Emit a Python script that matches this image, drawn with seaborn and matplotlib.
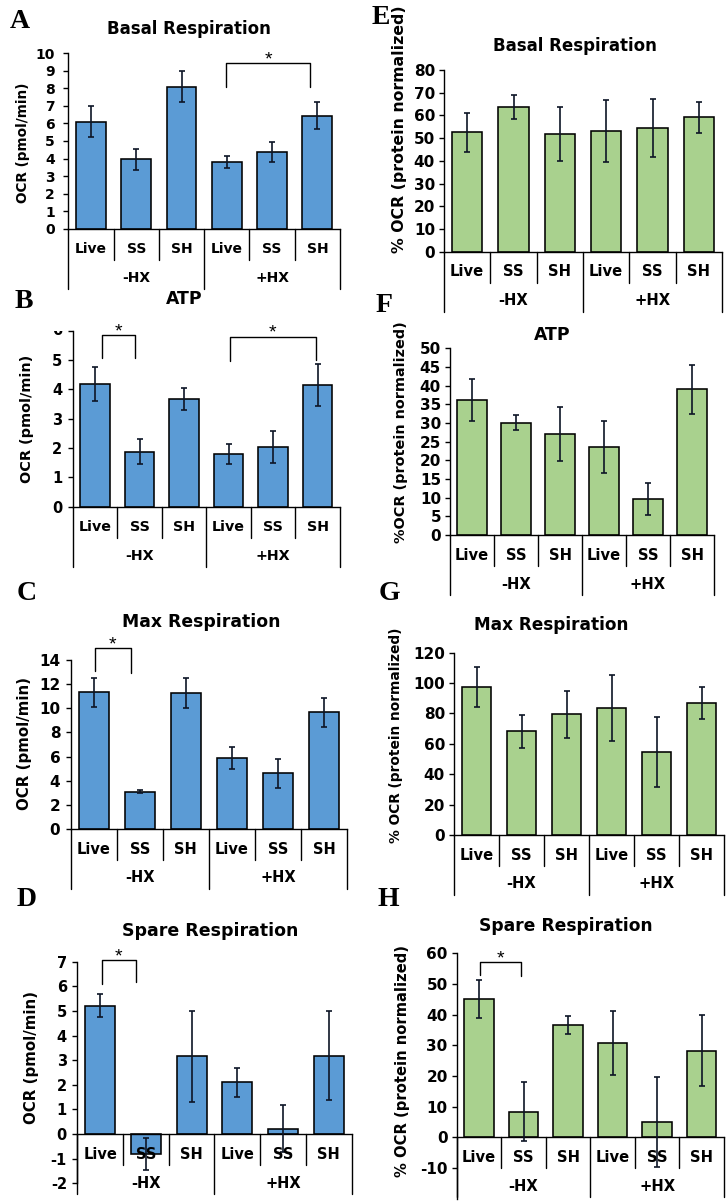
import numpy as np
import pandas as pd
import matplotlib
matplotlib.use("Agg")
import matplotlib.pyplot as plt
import seaborn as sns
from matplotlib.transforms import Bbox

sns.set_theme(style="white")
plt.rcParams["font.family"] = ["DejaVu Sans"]
plt.rcParams["font.weight"] = "bold"
for key in ("text.color", "axes.labelcolor", "xtick.color", "ytick.color"):
    plt.rcParams[key] = "black"

W, H, DPI = 728, 1202, 100

# ---- categories ----
treatments = ["Live", "SS", "SH", "Live", "SS", "SH"]
groups = ["-HX", "+HX"]
keys = [f"{t} {g}" for g in groups for t in treatments[:3]]

# ---- OCR (pmol/min) ----
basal_ocr = [6.1, 3.95, 8.1, 3.8, 4.4, 6.45]
basal_ocr_err = [0.9, 0.6, 0.88, 0.35, 0.57, 0.78]
atp_ocr = [4.18, 1.88, 3.66, 1.8, 2.03, 4.14]
atp_ocr_err = [0.58, 0.44, 0.37, 0.35, 0.55, 0.72]
max_ocr = [11.33, 3.1, 11.27, 5.91, 4.61, 9.67]
max_ocr_err = [1.2, 0.13, 1.25, 0.9, 1.2, 1.22]
spare_ocr = [5.22, -0.8, 3.15, 2.1, 0.22, 3.18]
spare_ocr_err = [0.46, 0.65, 1.83, 0.58, 0.94, 1.81]

# ---- % OCR (protein normalized) ----
basal_pct = [52.6, 63.8, 51.8, 53.2, 54.6, 59.2]
basal_pct_err = [8.5, 5.4, 11.7, 13.7, 12.7, 6.9]
atp_pct = [36.1, 30.1, 27.0, 23.6, 9.7, 39.0]
atp_pct_err = [5.6, 2.0, 7.3, 7.0, 4.3, 6.5]
max_pct = [97.2, 68.3, 79.5, 83.6, 54.4, 87.1]
max_pct_err = [13.2, 11.0, 15.6, 21.8, 23.0, 10.6]
spare_pct = [45.1, 8.4, 36.6, 30.8, 5.0, 28.3]
spare_pct_err = [6.3, 9.5, 2.9, 10.4, 14.8, 11.5]

# significance brackets: (x_left, x_right, top, left leg end, right leg end)
sig_A = [(2.98, 4.84, 9.43, 8.1, 8.06)]
sig_B = [(0.15, 0.9, 5.85, 5.06, 5.06), (3.03, 4.96, 5.8, 4.98, 5.0)]
sig_C = [(0.03, 0.8, 14.97, 13.1, 12.9)]
sig_D = [(0.03, 0.78, 7.06, 6.09, 6.18)]
sig_H = [(0.02, 0.95, 57.1, 52.9, 52.7)]

BLUE = "#5B9BD5"
GREEN = "#A9D18E"

# per panel: axis box in pixels (left, right, top, bottom), text anchors in pixels,
# font sizes (tick, category, ylabel, title) and tick-label pad
panels = [
    dict(letter="A", title="Basal Respiration", ylabel="OCR (pmol/min)",
         v=basal_ocr, e=basal_ocr_err, c=BLUE, box=(68.3, 340, 53.3, 228.7),
         ylim=(0, 10), ticks=list(range(0, 11)), sig=sig_A,
         lxy=(20, 21), txy=(189, 29), yxy=(23, 143), fs=(10, 10, 9.8, 12), pad=6),
    dict(letter="E", title="Basal Respiration", ylabel="% OCR (protein normalized)",
         v=basal_pct, e=basal_pct_err, c=GREEN, box=(444, 722, 70, 251.7),
         ylim=(0, 80), ticks=list(range(0, 81, 10)), sig=[],
         lxy=(381, 17), txy=(575, 46), yxy=(399, 129), fs=(11, 10.6, 11.3, 12), pad=3),
    dict(letter="B", title="ATP", ylabel="OCR (pmol/min)",
         v=atp_ocr, e=atp_ocr_err, c=BLUE, box=(72.7, 340, 330.7, 506.7),
         ylim=(0, 6), ticks=list(range(0, 7)), sig=sig_B,
         lxy=(24, 302), txy=(184, 299), yxy=(27.5, 419), fs=(10.5, 10.3, 10.4, 12.4), pad=4),
    dict(letter="F", title="ATP", ylabel="%OCR (protein normalized)",
         v=atp_pct, e=atp_pct_err, c=GREEN, box=(450, 714, 348.3, 535),
         ylim=(0, 50), ticks=list(range(0, 51, 5)), sig=[],
         lxy=(384, 306), txy=(552, 335), yxy=(401, 432), fs=(11, 10.6, 10.4, 12.4), pad=3),
    dict(letter="C", title="Max Respiration", ylabel="OCR (pmol/min)",
         v=max_ocr, e=max_ocr_err, c=BLUE, box=(70.7, 347, 660, 829),
         ylim=(0, 14), ticks=list(range(0, 15, 2)), sig=sig_C,
         lxy=(27, 594), txy=(201, 622), yxy=(25, 743), fs=(11, 10.5, 10.8, 12.4), pad=4),
    dict(letter="G", title="Max Respiration", ylabel="% OCR (protein normalized)",
         v=max_pct, e=max_pct_err, c=GREEN, box=(454, 724, 652.7, 835),
         ylim=(0, 120), ticks=list(range(0, 121, 20)), sig=[],
         lxy=(389, 594), txy=(551, 625), yxy=(396, 735), fs=(11, 10.6, 9.9, 12.2), pad=3),
    dict(letter="D", title="Spare Respiration", ylabel="OCR (pmol/min)",
         v=spare_ocr, e=spare_ocr_err, c=BLUE, box=(77.3, 351.7, 961.7, 1183.3),
         ylim=(-2, 7), ticks=list(range(-2, 8)), sig=sig_D,
         lxy=(27, 900), txy=(210, 931), yxy=(32, 1057), fs=(10.5, 10.5, 10.8, 12.5), pad=4),
    dict(letter="H", title="Spare Respiration", ylabel="% OCR (protein normalized)",
         v=spare_pct, e=spare_pct_err, c=GREEN, box=(456.7, 724, 953.3, 1198.7),
         ylim=(-20, 60), ticks=list(range(-10, 61, 10)), sig=sig_H,
         lxy=(388, 900), txy=(566, 926), yxy=(403, 1061), fs=(11, 10.6, 10.6, 12.3), pad=3),
]

fig = plt.figure(figsize=(W / DPI, H / DPI), dpi=DPI, facecolor="white")


def px_to_fig(x, y):
    return x / W, 1 - y / H


for p in panels:
    l, r, t, b = p["box"]
    ax = fig.add_axes([l / W, 1 - b / H, (r - l) / W, (b - t) / H])
    df = pd.DataFrame({"key": keys, "value": p["v"]})
    sns.barplot(data=df, x="key", y="value", order=keys, color=p["c"],
                saturation=1, edgecolor="black", linewidth=1.15, width=0.66,
                errorbar=None, ax=ax, zorder=2)
    xs = np.arange(len(keys))
    ax.errorbar(xs, p["v"], yerr=p["e"], fmt="none", ecolor="#0d1526",
                elinewidth=1.2, capsize=2.2, capthick=1.2, zorder=3)

    ymin, ymax = p["ylim"]
    ax.set_xlim(-0.5, 5.5)
    ax.set_ylim(ymin, ymax)
    ax.set_facecolor("none")
    ax.set_xlabel("")
    ax.set_ylabel("")
    for s in ("top", "right"):
        ax.spines[s].set_visible(False)
    for s in ("left", "bottom"):
        ax.spines[s].set_color("black")
        ax.spines[s].set_linewidth(1.0)
    ax.spines["bottom"].set_position(("data", 0))
    ax.tick_params(axis="x", bottom=False, labelbottom=False)
    ax.tick_params(axis="y", left=True, direction="out", length=3.5, width=1.0,
                   color="black", labelcolor="black", pad=p["pad"],
                   labelsize=p["fs"][0])

    ticks = p["ticks"]
    ax.set_yticks(ticks)
    labels = [str(v) for v in ticks]
    top_clipped = p["letter"] == "B"
    if top_clipped:
        labels[-1] = ""
    ax.set_yticklabels(labels, fontweight="bold")

    ppu = (b - t) / (ymax - ymin)  # pixels per data unit

    def dy(px):
        return px / ppu

    # multi-level category axis hanging below the zero line
    for xsep in (0.5, 1.5, 3.5, 4.5):
        ax.plot([xsep, xsep], [0, -dy(31)], color="black", lw=1.0, clip_on=False, zorder=4)
    for xsep in (-0.5, 2.5, 5.5):
        ax.plot([xsep, xsep], [0, -dy(60)], color="black", lw=1.0, clip_on=False, zorder=4)
    for i, tname in enumerate(treatments):
        ax.text(i, -dy(20), tname, ha="center", va="center", fontsize=p["fs"][1],
                fontweight="bold", color="black", clip_on=False, zorder=5)
    for gi, g in enumerate(groups):
        ax.text(1 + 3 * gi, -dy(49), g, ha="center", va="center", fontsize=p["fs"][1],
                fontweight="bold", color="black", clip_on=False)

    # significance brackets
    for x1, x2, top, e1, e2 in p["sig"]:
        ax.plot([x1, x1, x2, x2], [e1, top, top, e2], color="black", lw=1.0,
                clip_on=False, zorder=4)
        ax.text((x1 + x2) / 2, top - dy(1), "*", ha="center", va="baseline",
                fontsize=14, fontweight="normal", family=["Liberation Sans"],
                color="black", clip_on=False)

    if top_clipped:
        tx = ax.annotate(str(ticks[-1]), xy=(0, ticks[-1]), xycoords=("axes fraction", "data"),
                         xytext=(-3.5 - p["pad"], 0), textcoords="offset points",
                         ha="right", va="center", fontsize=p["fs"][0], fontweight="bold",
                         color="black", annotation_clip=False)
        tx.set_clip_box(Bbox.from_extents(0, 0, W, H - t))
        tx.set_clip_on(True)

    fx, fy = px_to_fig(*p["txy"])
    fig.text(fx, fy, p["title"], ha="center", va="center", fontsize=p["fs"][3],
             fontweight="bold", color="black")
    fx, fy = px_to_fig(*p["yxy"])
    fig.text(fx, fy, p["ylabel"], ha="center", va="center", rotation=90,
             fontsize=p["fs"][2], fontweight="bold", color="black")
    fx, fy = px_to_fig(*p["lxy"])
    fig.text(fx, fy, p["letter"], ha="center", va="center", fontsize=20,
             fontweight="bold", color="black", family=["Liberation Serif", "DejaVu Serif"])

fig.savefig("out.png", dpi=DPI, facecolor="white")
